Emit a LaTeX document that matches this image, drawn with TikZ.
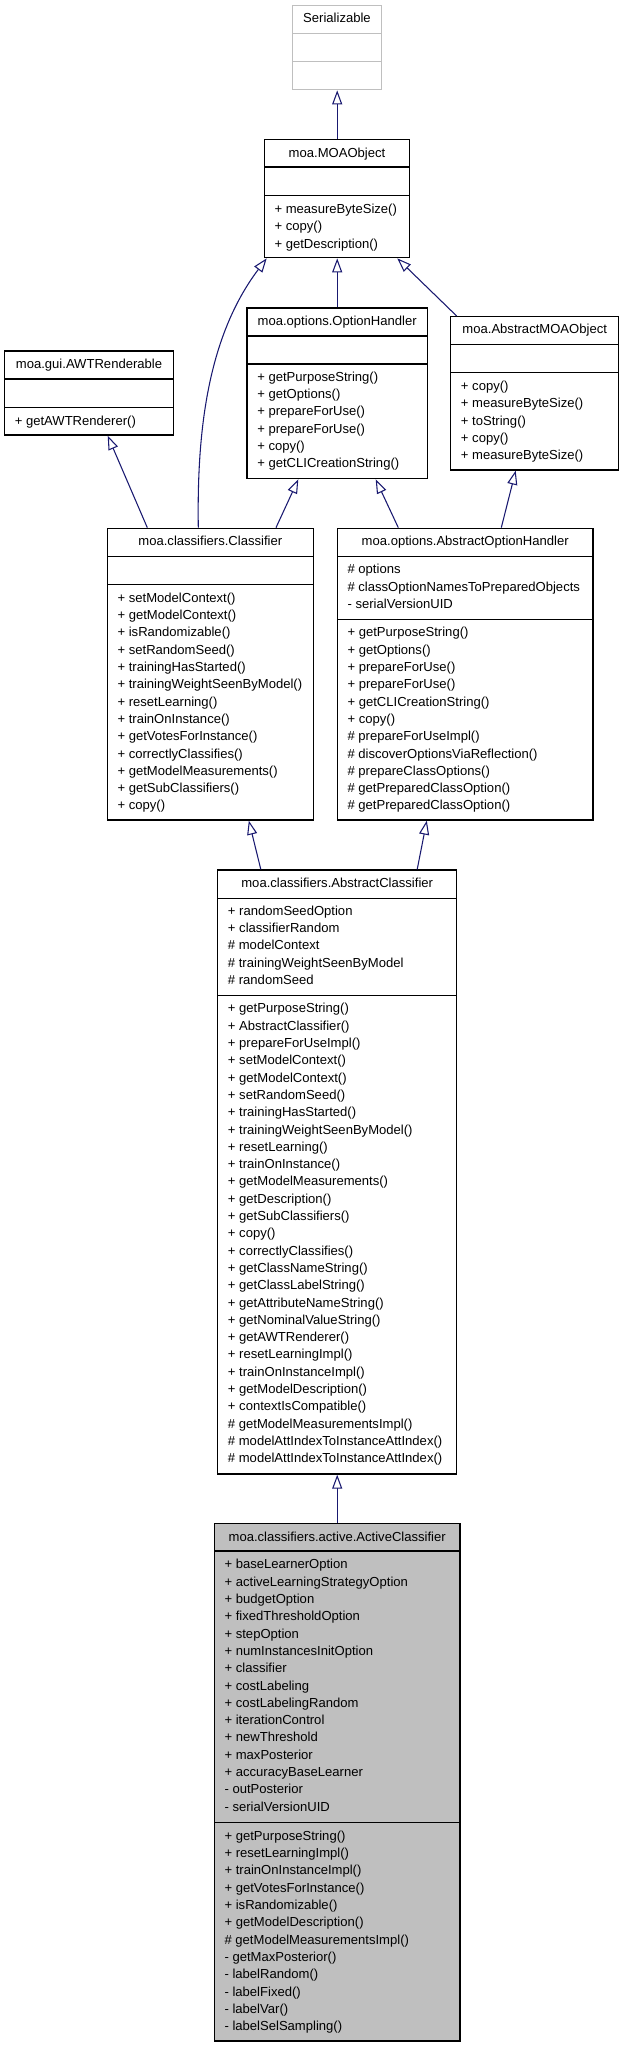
\documentclass[tikz,border=0pt]{standalone}
\usepackage{fontspec}
\setmainfont{Liberation Sans}
\usetikzlibrary{arrows.meta,fit}
\definecolor{edgeblue}{HTML}{191970}
\definecolor{greyseventyfive}{HTML}{BFBFBF}
\newcommand\umlmembers[4]{%
  \foreach \t [count=\i from 0] in {#4} {\node[mem] (#1-\i) at (#2,#3+\i*17.3) {\t};}}
\begin{document}
\begin{tikzpicture}[x=0.75pt,y=-0.75pt,
  box/.style={draw=black,line width=1pt,inner sep=0pt,fill=white},
  ghost/.style={draw=greyseventyfive,line width=1pt,inner sep=0pt,fill=white},
  active/.style={draw=black,line width=1pt,inner sep=0pt,fill=greyseventyfive},
  sepl/.style={draw=black,line width=1pt},
  gsepl/.style={draw=greyseventyfive,line width=1pt},
  ttl/.style={anchor=base,inner sep=0pt,font=\fontsize{9.8pt}{12pt}\selectfont},
  mem/.style={anchor=base west,inner sep=0pt,font=\fontsize{9.8pt}{12pt}\selectfont},
  inh/.style={draw=edgeblue,line width=0.8pt,-{Triangle[length=10.5pt,width=7.5pt,fill=white]}}]
\useasboundingbox (0,0) rectangle (624,2048);

% Serializable
\node[ghost,fit={(292.3,5.7) (381.7,89.7)}] (ser) {};
\draw[gsepl] (292.3,33.3) -- (381.7,33.3);
\draw[gsepl] (292.3,61.7) -- (381.7,61.7);
\node[ttl] (ser-t) at (337,23) {Serializable};

% moa.MOAObject
\node[box,fit={(264.3,139.3) (409.7,257.7)}] (moa) {};
\draw[sepl] (264.3,167) -- (409.7,167);
\draw[sepl] (264.3,195.3) -- (409.7,195.3);
\node[ttl] (moa-t) at (337,157.3) {moa.MOAObject};
\umlmembers{moa}{274.3}{213.6}{+ measureByteSize(),+ copy(),+ getDescription()}

% moa.gui.AWTRenderable
\node[box,fit={(4.7,351) (173.3,435)}] (awt) {};
\draw[sepl] (4.7,379) -- (173.3,379);
\draw[sepl] (4.7,407.3) -- (173.3,407.3);
\node[ttl] (awt-t) at (89,368.9) {moa.gui.AWTRenderable};
\umlmembers{awt}{14.5}{425.3}{+ getAWTRenderer()}

% moa.options.OptionHandler
\node[box,fit={(247,308) (427.3,478.7)}] (oh) {};
\draw[sepl] (247,336) -- (427.3,336);
\draw[sepl] (247,364) -- (427.3,364);
\node[ttl] (oh-t) at (337.2,325.3) {moa.options.OptionHandler};
\umlmembers{oh}{257}{381.3}{+ getPurposeString(),+ getOptions(),+ prepareForUse(),+ prepareForUse(),+ copy(),+ getCLICreationString()}

% moa.AbstractMOAObject
\node[box,fit={(450.7,316.7) (618.7,470)}] (amo) {};
\draw[sepl] (450.7,344.7) -- (618.7,344.7);
\draw[sepl] (450.7,372.7) -- (618.7,372.7);
\node[ttl] (amo-t) at (534.7,333.9) {moa.AbstractMOAObject};
\umlmembers{amo}{460.7}{390.6}{+ copy(),+ measureByteSize(),+ toString(),+ copy(),+ measureByteSize()}

% moa.classifiers.Classifier
\node[box,fit={(107.3,528.3) (313.3,820)}] (cls) {};
\draw[sepl] (107.3,556.3) -- (313.3,556.3);
\draw[sepl] (107.3,584.3) -- (313.3,584.3);
\node[ttl] (cls-t) at (210.3,545.6) {moa.classifiers.Classifier};
\umlmembers{cls}{117.3}{602.3}{+ setModelContext(),+ getModelContext(),+ isRandomizable(),+ setRandomSeed(),+ trainingHasStarted(),+ trainingWeightSeenByModel(),+ resetLearning(),+ trainOnInstance(),+ getVotesForInstance(),+ correctlyClassifies(),+ getModelMeasurements(),+ getSubClassifiers(),+ copy()}

% moa.options.AbstractOptionHandler
\node[box,fit={(337.3,528.3) (593,820)}] (aoh) {};
\draw[sepl] (337.3,556.3) -- (593,556.3);
\draw[sepl] (337.3,619.3) -- (593,619.3);
\node[ttl] (aoh-t) at (465.2,545.6) {moa.options.AbstractOptionHandler};
\umlmembers{aoha}{347.3}{573.9}{\# options,\# classOptionNamesToPreparedObjects,- serialVersionUID}
\umlmembers{aohm}{347.3}{636.9}{+ getPurposeString(),+ getOptions(),+ prepareForUse(),+ prepareForUse(),+ getCLICreationString(),+ copy(),\# prepareForUseImpl(),\# discoverOptionsViaReflection(),\# prepareClassOptions(),\# getPreparedClassOption(),\# getPreparedClassOption()}

% moa.classifiers.AbstractClassifier
\node[box,fit={(217.7,870) (456.7,1474)}] (acl) {};
\draw[sepl] (217.7,898.3) -- (456.7,898.3);
\draw[sepl] (217.7,995.7) -- (456.7,995.7);
\node[ttl] (acl-t) at (337.2,887.3) {moa.classifiers.AbstractClassifier};
\umlmembers{acla}{227.7}{915.3}{+ randomSeedOption,+ classifierRandom,\# modelContext,\# trainingWeightSeenByModel,\# randomSeed}
\umlmembers{aclm}{227.7}{1012.9}{+ getPurposeString(),+ AbstractClassifier(),+ prepareForUseImpl(),+ setModelContext(),+ getModelContext(),+ setRandomSeed(),+ trainingHasStarted(),+ trainingWeightSeenByModel(),+ resetLearning(),+ trainOnInstance(),+ getModelMeasurements(),+ getDescription(),+ getSubClassifiers(),+ copy(),+ correctlyClassifies(),+ getClassNameString(),+ getClassLabelString(),+ getAttributeNameString(),+ getNominalValueString(),+ getAWTRenderer(),+ resetLearningImpl(),+ trainOnInstanceImpl(),+ getModelDescription(),+ contextIsCompatible(),\# getModelMeasurementsImpl(),\# modelAttIndexToInstanceAttIndex(),\# modelAttIndexToInstanceAttIndex()}

% moa.classifiers.active.ActiveClassifier
\node[active,fit={(214.3,1523.3) (460,2041)}] (act) {};
\draw[sepl] (214.3,1551) -- (460,1551);
\draw[sepl] (214.3,1822.7) -- (460,1822.7);
\node[ttl] (act-t) at (337.2,1541.3) {moa.classifiers.active.ActiveClassifier};
\umlmembers{acta}{224.3}{1568.9}{+ baseLearnerOption,+ activeLearningStrategyOption,+ budgetOption,+ fixedThresholdOption,+ stepOption,+ numInstancesInitOption,+ classifier,+ costLabeling,+ costLabelingRandom,+ iterationControl,+ newThreshold,+ maxPosterior,+ accuracyBaseLearner,- outPosterior,- serialVersionUID}
\umlmembers{actm}{224.3}{1840.3}{+ getPurposeString(),+ resetLearningImpl(),+ trainOnInstanceImpl(),+ getVotesForInstance(),+ isRandomizable(),+ getModelDescription(),\# getModelMeasurementsImpl(),- getMaxPosterior(),- labelRandom(),- labelFixed(),- labelVar(),- labelSelSampling()}

% inheritance connectors
\draw[inh] (moa.north -| 337.2,0) -- (ser.south -| 337.2,0);
\draw[inh] (cls.north -| 198.3,0) .. controls (197,440) and (205,340) .. (moa.south -| 266.7,0);
\draw[inh] (oh.north -| 337.2,0) -- (moa.south -| 337.2,0);
\draw[inh] (amo.north -| 456.7,0) -- (moa.south -| 397.3,0);
\draw[inh] (cls.north -| 147.3,0) -- (awt.south -| 107.7,0);
\draw[inh] (cls.north -| 276,0) -- (oh.south -| 298.3,0);
\draw[inh] (aoh.north -| 398.3,0) -- (oh.south -| 375.7,0);
\draw[inh] (aoh.north -| 501.3,0) -- (amo.south -| 515.7,0);
\draw[inh] (acl.north -| 260.8,0) -- (cls.south -| 248.8,0);
\draw[inh] (acl.north -| 417.2,0) -- (aoh.south -| 426.8,0);
\draw[inh] (act.north -| 337.2,0) -- (acl.south -| 337.2,0);
\end{tikzpicture}
\end{document}
